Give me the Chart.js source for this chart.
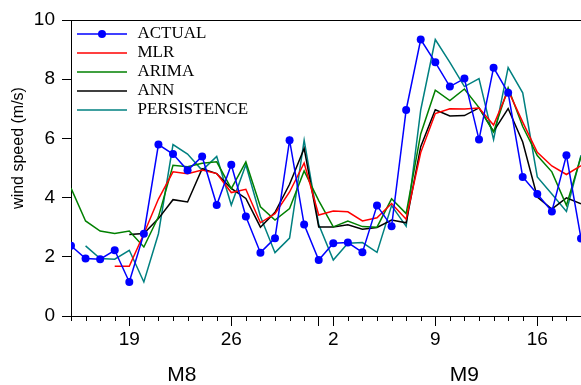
<!DOCTYPE html>
<html>
<head>
<meta charset="utf-8">
<script src="https://cdn.jsdelivr.net/npm/chart.js@4/dist/chart.umd.min.js"></script>
<style>
  html, body { margin: 0; padding: 0; background: #fff; }
  #wrap { width: 581px; height: 385px; }
</style>
</head>
<body>
<div id="wrap"><canvas id="windChart" width="581" height="385"></canvas></div>
<script>
// day index: 0 = Aug 15 ... 17 = Sep 1 ... 35 = Sep 19
const days = Array.from({ length: 36 }, (_, i) => i);

const actual = [2.37, 1.94, 1.92, 2.22, 1.15, 2.78, 5.79, 5.47, 4.92, 5.39, 3.75, 5.11, 3.36, 2.14, 2.63, 5.94, 3.09, 1.89,
  2.46, 2.48, 2.15, 3.73, 3.03, 6.96, 9.34, 8.57, 7.75, 8.02, 5.96, 8.39, 7.54, 4.70, 4.12, 3.53, 5.43, 2.62];
const mlr = [null, null, null, 1.68, 1.68, 2.78, 3.95, 4.87, 4.81, 4.93, 4.81, 4.17, 4.28, 3.15, 3.46, 4.19, 5.17, 3.41,
  3.55, 3.52, 3.21, 3.32, 3.80, 3.27, 5.52, 6.84, 7.00, 6.99, 7.03, 6.45, 7.62, 6.55, 5.53, 5.07, 4.78, 5.08];
const arima = [4.32, 3.21, 2.87, 2.79, 2.87, 2.33, 3.35, 5.09, 5.04, 5.16, 5.21, 4.30, 5.21, 3.69, 3.24, 3.63, 4.90, 3.90,
  3.01, 3.21, 3.02, 3.00, 3.96, 3.46, 6.15, 7.63, 7.28, 7.67, 7.04, 6.22, 7.71, 6.40, 5.42, 4.87, 3.74, 5.38];
const ann = [null, null, null, null, 2.75, 2.79, 3.29, 3.93, 3.85, 4.98, 4.81, 4.31, 3.97, 3.00, 3.50, 4.45, 5.66, 3.01,
  3.01, 3.08, 2.93, 2.99, 3.24, 3.15, 5.72, 6.97, 6.76, 6.77, 7.03, 6.24, 7.01, 5.88, 4.02, 3.61, 3.99, 3.79];
const persistence = [null, 2.37, 1.94, 1.92, 2.22, 1.15, 2.78, 5.79, 5.47, 4.92, 5.39, 3.75, 5.11, 3.36, 2.14, 2.63, 5.94,
  3.09, 1.89, 2.46, 2.48, 2.15, 3.73, 3.03, 6.96, 9.34, 8.57, 7.75, 8.02, 5.96, 8.39, 7.54, 4.70, 4.12, 3.53, 5.43];

const majorTickDays = [4, 11, 17, 18, 25, 32];
const majorTickLabels = ["19", "26", "", "2", "9", "16"];
const monthLabelDays = [7.6, 27];
const monthLabels = ["M8", "M9"];
const yTicks = [0, 2, 4, 6, 8, 10];

const seriesNames = ["ACTUAL", "MLR", "ARIMA", "ANN", "PERSISTENCE"];
const seriesColors = ["#0000ff", "#ff0000", "#008000", "#000000", "#008080"];
const seriesValues = [actual, mlr, arima, ann, persistence];

const sansFont = "'Liberation Sans', Arial, sans-serif";
const serifFont = "'Liberation Serif', 'Times New Roman', serif";

// small canvases used as legend symbols (line, plus dot for ACTUAL)
function legendSymbol(color, withDot) {
  const c = document.createElement("canvas");
  c.width = 56;
  c.height = 10;
  const g = c.getContext("2d");
  g.strokeStyle = color;
  g.lineWidth = 1.5;
  g.beginPath();
  g.moveTo(4, 5);
  g.lineTo(54, 5);
  g.stroke();
  if (withDot) {
    g.fillStyle = color;
    g.beginPath();
    g.arc(29, 5, 4, 0, Math.PI * 2);
    g.fill();
  }
  return c;
}
const legendSymbols = seriesColors.map((c, i) => legendSymbol(c, i === 0));

const datasets = seriesNames.map((name, i) => ({
  label: name,
  data: days.map((d, j) => ({ x: d, y: seriesValues[i][j] })),
  borderColor: seriesColors[i],
  backgroundColor: seriesColors[i],
  borderWidth: 1.5,
  pointRadius: i === 0 ? 4 : 0,
  pointBorderWidth: 0,
  pointHoverRadius: i === 0 ? 4 : 0,
  tension: 0,
  spanGaps: false,
}));

// frame top line, daily minor ticks, y axis title
const decorations = {
  id: "decorations",
  afterDraw(chart) {
    const ctx = chart.ctx;
    const area = chart.chartArea;
    const xs = chart.scales.x;
    ctx.save();
    ctx.strokeStyle = "#000";
    ctx.lineWidth = 1;

    ctx.beginPath();
    ctx.moveTo(area.left, Math.round(area.top) + 0.5);
    ctx.lineTo(area.right, Math.round(area.top) + 0.5);
    ctx.stroke();

    ctx.beginPath();
    days.forEach((d) => {
      if (majorTickDays.includes(d)) return;
      const px = Math.round(xs.getPixelForValue(d)) + 0.5;
      ctx.moveTo(px, area.bottom);
      ctx.lineTo(px, area.bottom + 5);
    });
    ctx.stroke();

    ctx.fillStyle = "#000";
    ctx.font = "16px " + sansFont;
    ctx.textAlign = "center";
    ctx.textBaseline = "middle";
    ctx.translate(19, 148);
    ctx.rotate(-Math.PI / 2);
    ctx.fillText("wind speed (m/s)", 0, 0);
    ctx.restore();
  },
};

new Chart(document.getElementById("windChart").getContext("2d"), {
  type: "line",
  data: { datasets: datasets },
  options: {
    responsive: false,
    animation: false,
    layout: { autoPadding: false, padding: { top: 20, left: 0, right: 0, bottom: 0 } },
    plugins: {
      tooltip: { enabled: false },
      legend: {
        // a vertical legend in the chart area is laid out from the canvas top,
        // so an empty title pushes the rows down below the frame
        position: "chartArea",
        align: "start",
        title: { display: true, text: "", font: { size: 23.5, lineHeight: 1 }, padding: 0 },
        labels: {
          usePointStyle: true,
          pointStyleWidth: 56,
          padding: 2,
          color: "#000",
          font: { family: serifFont, size: 17 },
          generateLabels: (chart) =>
            chart.data.datasets.map((ds, i) => ({
              text: ds.label,
              pointStyle: legendSymbols[i],
              fillStyle: ds.borderColor,
              strokeStyle: ds.borderColor,
              lineWidth: 0,
              hidden: false,
              fontColor: "#000",
              datasetIndex: i,
            })),
        },
      },
    },
    scales: {
      x: {
        type: "linear",
        position: "bottom",
        min: 0,
        max: 35,
        afterBuildTicks: (axis) => {
          axis.ticks = majorTickDays.map((v) => ({ value: v }));
        },
        afterFit: (axis) => {
          axis.height = 40;
        },
        ticks: {
          autoSkip: false,
          maxRotation: 0,
          padding: 2,
          color: "#000",
          font: { family: sansFont, size: 19 },
          callback: (value, index) => majorTickLabels[index],
        },
        grid: {
          drawOnChartArea: false,
          drawTicks: true,
          tickLength: 10,
          tickColor: "#000",
          tickWidth: 1,
        },
        border: { display: true, color: "#000", width: 1 },
      },
      month: {
        type: "linear",
        position: "bottom",
        min: 0,
        max: 35,
        weight: 1,
        afterBuildTicks: (axis) => {
          axis.ticks = monthLabelDays.map((v) => ({ value: v }));
        },
        afterFit: (axis) => {
          axis.height = 29;
        },
        ticks: {
          autoSkip: false,
          maxRotation: 0,
          padding: 7,
          color: "#000",
          font: { family: sansFont, size: 21 },
          callback: (value, index) => monthLabels[index],
        },
        grid: { display: false, drawTicks: false },
        border: { display: false },
      },
      y: {
        min: 0,
        max: 10,
        afterBuildTicks: (axis) => {
          axis.ticks = yTicks.map((v) => ({ value: v }));
        },
        afterFit: (axis) => {
          axis.width = 71;
        },
        ticks: {
          padding: 7,
          color: "#000",
          font: { family: sansFont, size: 19 },
        },
        grid: {
          drawOnChartArea: false,
          drawTicks: true,
          tickLength: 9,
          tickColor: "#000",
        },
        border: { display: true, color: "#000", width: 1 },
      },
    },
  },
  plugins: [decorations],
});
</script>
</body>
</html>
